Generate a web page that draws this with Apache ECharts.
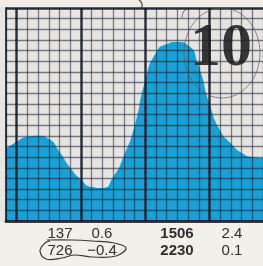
<!DOCTYPE html>
<html>
<head>
<meta charset="utf-8">
<script src="https://cdn.jsdelivr.net/npm/echarts@6/dist/echarts.min.js"></script>
<style>
  html,body{margin:0;padding:0;background:#efede8}
  #chart{width:263px;height:266px}
</style>
</head>
<body>
<div id="chart"></div>
<script>
// grid columns (one per paper square) and the height of the blue fill at each, in squares
const columns = ['0','1','2','3','4','5','6','7','8','9','10','11','12','13','14','15','16','17','18','19','20','21','22','23','24'];
const fillLevel = [6.8, 7.45, 7.9, 8.0, 7.7, 6.5, 5.0, 3.9, 3.2, 3.1, 4.1, 6.1, 8.9, 13.2, 15.8, 16.6, 16.8, 16.5, 14.5, 11.0, 8.5, 7.3, 6.4, 6.0, 5.9];
const heavyColumns = ['1', '7', '13', '19'];
const rowTop = ['137', '0.6', '1506', '2.4'];
const rowBottom = ['726', '−0.4', '2230', '0.1'];
const boldCols = [false, false, true, false];
const badge = '10';

const chart = echarts.init(document.getElementById('chart'), null, {renderer: 'canvas'});

const colX = [60, 102, 177, 232];
const gridInk = 'rgba(25,32,48,0.55)';
const heavyInk = 'rgba(20,24,36,0.8)';

const texts = [];
rowTop.forEach((t, i) => texts.push({
  type: 'text', x: colX[i], y: 234, z: 20,
  style: {text: t, fill: '#2e2e2e', font: (boldCols[i] ? 'bold ' : '') + '15px "Liberation Sans", Arial', align: 'center', verticalAlign: 'middle'}
}));
rowBottom.forEach((t, i) => texts.push({
  type: 'text', x: colX[i], y: 251, z: 20,
  style: {text: t, fill: '#2e2e2e', font: (boldCols[i] ? 'bold ' : '') + '15px "Liberation Sans", Arial', align: 'center', verticalAlign: 'middle'}
}));

chart.setOption({
  backgroundColor: '#e6e5e2',
  animation: false,
  grid: {left: 6, right: 0, top: 8, bottom: 45},
  xAxis: {
    type: 'category', data: columns, boundaryGap: false, z: 5,
    axisLine: {show: true, lineStyle: {color: heavyInk, width: 3}},
    axisTick: {show: false}, axisLabel: {show: false},
    splitLine: {show: true, interval: 0, lineStyle: {color: gridInk, width: 1.3}}
  },
  yAxis: {
    type: 'value', min: 0, max: 20, interval: 1, z: 5,
    axisLine: {show: true, lineStyle: {color: heavyInk, width: 2}},
    axisTick: {show: false}, axisLabel: {show: false},
    splitLine: {show: true, lineStyle: {color: gridInk, width: 1.3}}
  },
  series: [{
    type: 'line', data: fillLevel, smooth: 0.65, symbol: 'none',
    lineStyle: {width: 0},
    areaStyle: {color: '#1aa0d5', opacity: 1},
    markLine: {
      silent: true, symbol: 'none', label: {show: false},
      lineStyle: {color: heavyInk, width: 2.5, type: 'solid'},
      data: heavyColumns.map(c => ({xAxis: c})).concat([{yAxis: 20}])
    }
  }],
  graphic: [
    {type: 'rect', shape: {x: 0, y: 222, width: 263, height: 44}, style: {fill: '#f2f0eb'}, z: -1},
    {type: 'rect', shape: {x: 0, y: 0, width: 263, height: 7}, style: {fill: '#efede6'}, z: -1},
    {type: 'text', x: 221, y: 49, z: 20,
      style: {text: badge, fill: 'rgba(30,30,30,0.88)', font: 'bold 62px "Liberation Serif", "DejaVu Serif", serif', align: 'center', verticalAlign: 'middle'}},
    {type: 'ellipse', z: 20, shape: {cx: 222, cy: 53, rx: 38, ry: 45},
      style: {fill: 'none', stroke: 'rgba(90,90,90,0.7)', lineWidth: 1}},
    {type: 'polyline', z: 20, shape: {points: [[139, 0], [142, 4], [141, 9]], smooth: 0.5},
      style: {fill: 'none', stroke: '#444', lineWidth: 1.2}},
    {type: 'polyline', z: 20, shape: {points: [[182, 18], [184, 11], [188, 9]], smooth: 0.5},
      style: {fill: 'none', stroke: 'rgba(60,60,60,0.7)', lineWidth: 1}},
    // hand-drawn loop round the first pair of the second row
    {type: 'polyline', z: 20, shape: {points: [[47, 240], [72, 240], [92, 241], [114, 243], [126, 248], [116, 256], [92, 257], [74, 255], [62, 258], [46, 259], [40, 251], [45, 243], [50, 241]], smooth: 0.4},
      style: {fill: 'none', stroke: '#3a3a3a', lineWidth: 1.2}}
  ].concat(texts)
});
</script>
</body>
</html>
